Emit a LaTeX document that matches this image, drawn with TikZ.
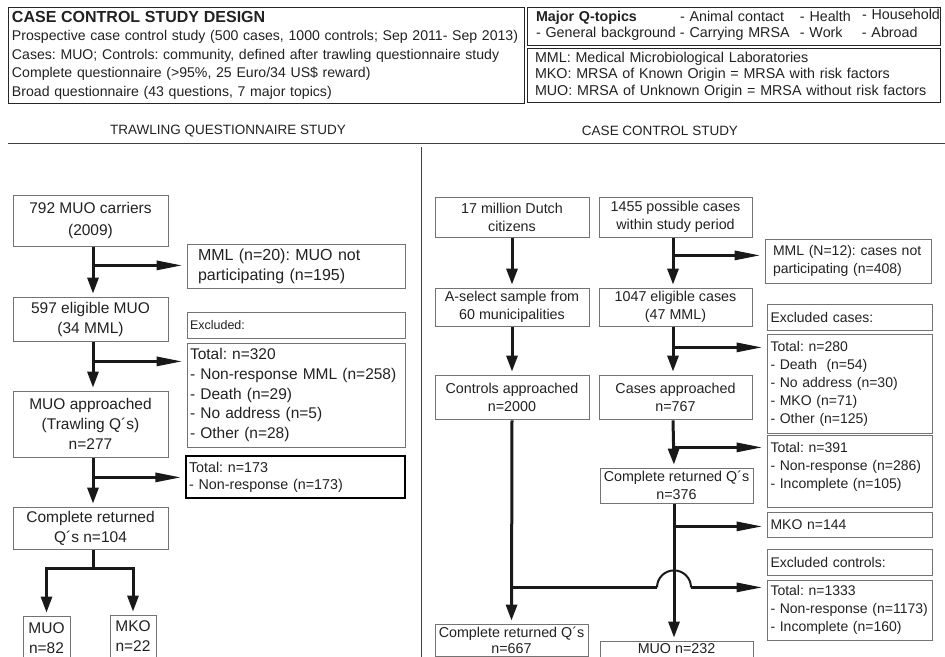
\documentclass[tikz,border=0pt]{standalone}
\usepackage{fontspec}
\setmainfont{Liberation Sans}
\usepackage{graphicx}
\usetikzlibrary{arrows.meta,calc}
\definecolor{txt}{gray}{0.13}
\definecolor{bd}{gray}{0.45}
\begin{document}
\frenchspacing
\begin{tikzpicture}[x=1pt,y=-1pt,
  geom/.style n args={4}{minimum width={#3-#1}, minimum height={#4-#2}, at={({(#1+#3)/2},{(#2+#4)/2})}},
  every node/.append style={text=txt},
  hbox/.style={draw=black!85, line width=1pt, inner ysep=0pt, align=left},
  cbox/.style={draw=bd, line width=0.8pt, inner sep=0pt, align=center, font=\fontsize{15.5}{20}\selectfont},
  cboxr/.style={cbox, font=\fontsize{14.3}{18}\selectfont},
  sbox/.style={draw=bd, line width=0.8pt, inner xsep=3pt, inner ysep=0pt, align=left, text width=212pt, font=\fontsize{15.5}{19.8}\selectfont},
  sboxr/.style={sbox, inner xsep=3.5pt, font=\fontsize{14}{18}\selectfont, text width=158pt},
  title/.style={font=\fontsize{13.5}{15}\selectfont, inner sep=0pt},
  flow/.style={line width=3pt, draw=black!90},
  varr/.style={flow, -{Triangle[length=16pt,width=11pt]}, shorten >=3pt, shorten <=1pt},
  harr/.style={flow, -{Triangle[length=26pt,width=9pt]}, shorten >=4pt},
]
\useasboundingbox (0,0) rectangle (945,656);
\clip (0,0) rectangle (945,656);

% ---------- header ----------
\node[hbox, geom={8}{7}{524}{103}, inner xsep=4pt, text width=508pt, font=\fontsize{14.1}{18.5}\selectfont] (design)
 {{\fontsize{16}{19}\selectfont\bfseries CASE CONTROL STUDY DESIGN}\\
  Prospective case control study (500 cases, 1000 controls; Sep 2011- Sep 2013)\\
  Cases: MUO; Controls: community, defined after trawling questionnaire study\\
  Complete questionnaire (>95\%, 25 Euro/34 US\$ reward)\\
  Broad questionnaire (43 questions, 7 major topics)};

\node[hbox, geom={527}{7}{940}{45}, inner xsep=9pt, text width=395pt, font=\fontsize{14.3}{16}\selectfont] (topics)
 {\begin{tabular}{@{}p{144pt}@{}p{120pt}@{}p{62pt}@{}l@{}}
  \textbf{Major Q-topics} & - Animal contact & - Health & \raisebox{2pt}{- Household}\\
  - General background & - Carrying MRSA & - Work & - Abroad
  \end{tabular}};

\node[hbox, geom={527}{48}{940}{102}, inner xsep=8pt, text width=397pt, font=\fontsize{14.3}{16.5}\selectfont] (abbr)
 {MML: Medical Microbiological Laboratories\\
  MKO: MRSA of Known Origin = MRSA with risk factors\\
  MUO: MRSA of Unknown Origin = MRSA without risk factors};

% ---------- section titles ----------
\node[title] (tqs) at (228,131) {TRAWLING QUESTIONNAIRE STUDY};
\node[title] (ccs) at (660,131) {CASE CONTROL STUDY};
\draw[line width=0.8pt, black!75] (8,143) -- (945,143);
\draw[line width=0.8pt, black!75] (421,147) -- (421,660);

% ---------- trawling questionnaire study ----------
\node[cbox, geom={13}{195}{168}{246}, font=\fontsize{15.5}{22}\selectfont] (b792) {792 MUO carriers\\(2009)};
\node[sbox, geom={187}{244}{405}{288}, inner xsep=11pt, text width=196pt, font=\fontsize{16}{20}\selectfont] (b20) {MML (n=20): MUO not\\participating (n=195)};
\node[cbox, geom={13}{297}{168}{341}] (b597) {597 eligible MUO\\(34 MML)};
\node[sbox, geom={187}{312}{405}{338}, font=\fontsize{12.5}{15}\selectfont] (exl) {Excluded:};
\node[sbox, geom={187}{343}{405}{447}] (t320) {Total: n=320\\- Non-response MML (n=258)\\- Death (n=29)\\- No address (n=5)\\- Other (n=28)};
\node[cbox, geom={13}{391}{168}{457}] (bmuoa) {MUO approached\\(Trawling Q´s)\\n=277};
\node[sbox, geom={186}{456}{405}{498}, draw=black, line width=1.3pt, text width=213pt, font=\fontsize{14.3}{17}\selectfont] (t173) {Total: n=173\\- Non-response (n=173)};
\node[cbox, geom={13}{507}{168}{549}] (b104) {Complete returned\\Q´s n=104};
\node[cbox, geom={23}{616}{70}{660}] (bmuo) {MUO\\n=82};
\node[cbox, geom={110}{615}{156}{658}] (bmko) {MKO\\n=22};

\draw[varr] ([xshift=2.5pt]b792.south) -- ([xshift=2.5pt]b597.north);
\path ([xshift=2.5pt]b792.south) ++(0,19) coordinate (j1);
\draw[harr] (j1) -- (j1 -| b20.west);
\draw[varr] ([xshift=2.5pt]b597.south) -- ([xshift=2.5pt]bmuoa.north);
\path ([xshift=2.5pt]b597.south) ++(0,20) coordinate (j2);
\draw[harr] (j2) -- (j2 -| t320.west);
\draw[varr] ([xshift=2.5pt]bmuoa.south) -- ([xshift=2.5pt]b104.north);
\path ([xshift=2.5pt]bmuoa.south) ++(0,20) coordinate (j3);
\draw[harr] (j3) -- (j3 -| t173.west);
\path ([xshift=2.5pt]b104.south) ++(0,19) coordinate (j4);
\draw[flow, shorten <=1pt] ([xshift=2.5pt]b104.south) -- (j4);
\draw[flow, {Triangle[length=16pt,width=11pt]}-{Triangle[length=16pt,width=11pt]}, shorten <=3pt, shorten >=3pt]
  (bmuo.north) -- (j4 -| bmuo.north) -- (j4 -| bmko.north) -- (bmko.north);

% ---------- case control study ----------
\node[cboxr, geom={435}{197}{589}{237}] (b17) {17 million Dutch\\citizens};
\node[cboxr, geom={599}{197}{752}{237}] (b1455) {1455 possible cases\\within study period};
\node[sboxr, geom={765}{239}{931}{283}, inner xsep=8pt, text width=150pt] (b12) {MML (N=12): cases not\\participating (n=408)};
\node[cboxr, geom={435}{288}{589}{326}] (bsel) {A-select sample from\\60 municipalities};
\node[cboxr, geom={599}{288}{752}{326}] (b1047) {1047 eligible cases\\(47 MML)};
\node[sboxr, geom={767}{304}{932}{330}] (exc) {Excluded cases:};
\node[sboxr, geom={767}{334}{932}{433}] (t280) {Total: n=280\\- Death\ \ (n=54)\\- No address (n=30)\\- MKO (n=71)\\- Other (n=125)};
\node[cboxr, geom={435}{375}{589}{419}] (bctrl) {Controls approached\\n=2000};
\node[cboxr, geom={599}{375}{752}{419}] (bcase) {Cases approached\\n=767};
\node[sboxr, geom={767}{435}{932}{507}, inner ysep=7pt] (t391)
  {\parbox[c][58pt][t]{158pt}{Total: n=391\\- Non-response (n=286)\\- Incomplete (n=105)}};
\node[cboxr, geom={600}{468}{753}{503}] (b376) {Complete returned Q´s\\n=376};
\node[sboxr, geom={767}{512}{932}{537}] (m144) {MKO n=144};
\node[sboxr, geom={767}{549}{932}{575}] (excc) {Excluded controls:};
\node[sboxr, geom={767}{580}{932}{640}] (t1333) {Total: n=1333\\- Non-response (n=1173)\\- Incomplete (n=160)};
\node[cboxr, geom={435}{624}{588}{656}, font=\fontsize{14.3}{16}\selectfont] (b667) {Complete returned Q´s\\n=667};
\node[cboxr, geom={600}{641}{753}{657}] (b232) {MUO n=232};

\draw[varr] (b17.south) -- (bsel.north);
\draw[varr] (bsel.south) -- (bctrl.north);
\draw[varr] (bctrl.south) -- (b667.north);
\draw[varr] ([xshift=-2.5pt]b1455.south) -- ([xshift=-2.5pt]b1047.north);
\path ([xshift=-2.5pt]b1455.south) ++(0,18) coordinate (k1);
\draw[harr] (k1) -- (k1 -| b12.west);
\draw[varr] ([xshift=-2.5pt]b1047.south) -- ([xshift=-2.5pt]bcase.north);
\path ([xshift=-2.5pt]b1047.south) ++(0,21) coordinate (k2);
\draw[harr] (k2) -- (k2 -| t280.west);
\draw[varr] ([xshift=-2.5pt]bcase.south) -- ([xshift=-2.5pt]b376.north);
\path ([xshift=-2.5pt]bcase.south) ++(0,28) coordinate (k3);
\draw[harr] (k3) -- (k3 -| t391.west);
\draw[varr] ([xshift=-2.5pt]b376.south) -- ([xshift=-2.5pt]b232.north);
\path ([xshift=-2.5pt]b376.south) ++(0,23) coordinate (k4);
\draw[harr] (k4) -- (k4 -| m144.west);
\path (bctrl.south) ++(0,168) coordinate (k5);
\coordinate (kx) at (k5 -| k4);
\draw[flow] (k5) -- ([xshift=-17pt]kx);
\draw[line width=2pt, black!90] ([xshift=-17pt]kx) arc[start angle=180, end angle=0, radius=17pt];
\draw[harr] ([xshift=17pt]kx) -- (kx -| t1333.west);
\end{tikzpicture}
\end{document}
